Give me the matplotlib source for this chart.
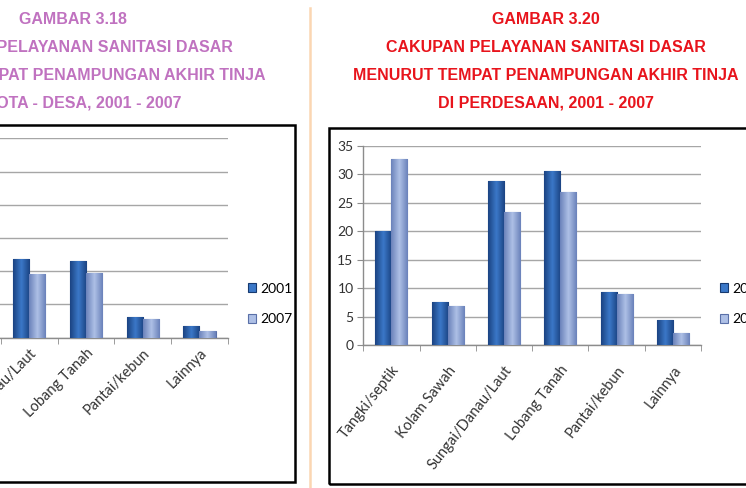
import numpy as np
import matplotlib
matplotlib.use("Agg")
import matplotlib.pyplot as plt
from matplotlib.patches import Rectangle
from matplotlib.lines import Line2D
from matplotlib.colors import LinearSegmentedColormap

W, H = 746, 488

# data ------------------------------------------------------------
cats = ["Tangki/septik", "Kolam Sawah", "Sungai/Danau/Laut",
        "Lobang Tanah", "Pantai/kebun", "Lainnya"]
years = ["2001", "2007"]

# left chart (kota - desa): only the last four categories are visible
left_idx = [2, 3, 4, 5]
left_2001 = [23.8, 23.0, 6.1, 3.4]
left_2007 = [19.1, 19.6, 5.6, 1.9]

# right chart (perdesaan)
right_2001 = [20.0, 7.6, 28.8, 30.6, 9.3, 4.5]
right_2007 = [32.6, 6.9, 23.4, 26.8, 9.0, 2.1]

left_title = ["GAMBAR 3.18", "CAKUPAN PELAYANAN SANITASI DASAR",
              "MENURUT TEMPAT PENAMPUNGAN AKHIR TINJA",
              "DI KOTA - DESA, 2001 - 2007"]
right_title = ["GAMBAR 3.20", "CAKUPAN PELAYANAN SANITASI DASAR",
               "MENURUT TEMPAT PENAMPUNGAN AKHIR TINJA",
               "DI PERDESAAN, 2001 - 2007"]

# styling ---------------------------------------------------------
c01 = ["#1b4382", "#3b78c8", "#1b4382"]
c07 = ["#6a82ba", "#aec0e6", "#6a82ba"]
cmap01 = LinearSegmentedColormap.from_list("c01", c01)
cmap07 = LinearSegmentedColormap.from_list("c07", c07)
grad = np.linspace(0, 1, 64).reshape(1, -1)
tick_font = "Lato"


def px_axes(fig, x0, x1, ytop, ybot):
    return fig.add_axes([x0 / W, 1 - ybot / H, (x1 - x0) / W, (ybot - ytop) / H])


def fancy_bars(ax, x, vals, width, cmap, edge, label):
    bars = ax.bar(x, vals, width, color=cmap(0.5), edgecolor=edge,
                  linewidth=0.8, zorder=3, label=label)
    for b in bars:
        x0, y0 = b.get_x(), b.get_y()
        im = ax.imshow(grad, cmap=cmap, aspect="auto", zorder=3.5,
                       extent=(x0, x0 + b.get_width(), y0, y0 + b.get_height()))
        im.set_clip_path(b)
    return bars


def draw_chart(ax, idx, v01, v07, ymax, ystep, show_y, rot, pad):
    bw = 0.285
    x = np.array(idx, dtype=float)
    fancy_bars(ax, x - bw / 2, v01, bw, cmap01, "#173a70", years[0])
    fancy_bars(ax, x + bw / 2, v07, bw, cmap07, "#5a70a8", years[1])
    ax.set_xlim(-0.5, len(cats) - 0.5)
    ax.set_ylim(0, ymax)
    ax.set_yticks(np.arange(0, ymax + 0.1, ystep))
    ax.yaxis.grid(True, color="#a6a6a6", linewidth=1.0, zorder=0)
    ax.set_axisbelow(True)
    for s in ["top", "right"]:
        ax.spines[s].set_visible(False)
    for s in ["left", "bottom"]:
        ax.spines[s].set_color("#8c8c8c")
        ax.spines[s].set_linewidth(1.0)
    ax.set_xticks(range(len(cats)))
    ax.set_xticklabels(cats, rotation=rot, ha="right", va="top",
                       rotation_mode="anchor", fontsize=10.5,
                       family=tick_font, color="#333333")
    ax.tick_params(axis="x", length=0, pad=pad)
    ax.set_xticks(np.arange(-0.5, len(cats)), minor=True)
    ax.tick_params(axis="x", which="minor", length=4, color="#8c8c8c")
    ax.tick_params(axis="y", length=4, color="#8c8c8c", labelsize=10,
                   labelcolor="#333333", pad=3)
    for t in ax.get_yticklabels():
        t.set_family(tick_font)
    if not show_y:
        ax.set_yticklabels([])
    ax.set_facecolor("none")


fig = plt.figure(figsize=(W / 100, H / 100), dpi=100)

# frames and separator
fig.patches.append(Rectangle((-5 / W, 1 - 482 / H), 300 / W, 357 / H,
                             transform=fig.transFigure, fill=False,
                             edgecolor="black", linewidth=1.8))
fig.patches.append(Rectangle((329 / W, 1 - 484 / H), 430 / W, 356 / H,
                             transform=fig.transFigure, fill=False,
                             edgecolor="black", linewidth=1.8))
fig.lines.append(Line2D([309.5 / W, 309.5 / W], [0, 1 - 8 / H],
                        transform=fig.transFigure, color="#fbd6b2",
                        linewidth=1.8))

axL = px_axes(fig, -112.4, 227.7, 138.3, 337.7)
draw_chart(axL, left_idx, left_2001, left_2007, 60, 10, False, 45, 6)

axR = px_axes(fig, 363.3, 701.0, 145.7, 345.3)
draw_chart(axR, range(len(cats)), right_2001, right_2007, 35, 5, True, 52, 13)

for ax, xanchor in [(axL, 235), (axR, 707)]:
    h, l = ax.get_legend_handles_labels()
    ax.legend(h, l, loc="center left", frameon=False,
              bbox_to_anchor=(xanchor / W, 1 - 304 / H),
              bbox_transform=fig.transFigure,
              handlelength=0.6, handleheight=0.6, handletextpad=0.3,
              labelspacing=1.35, prop={"family": tick_font, "size": 10})

for lines, xc, color in [(left_title, 73, "#c072c0"), (right_title, 546, "#e8141c")]:
    for i, s in enumerate(lines):
        fig.text(xc / W, 1 - (19 + 28 * i) / H, s, ha="center", va="center",
                 fontsize=11.5, fontweight="bold", color=color,
                 family="Liberation Sans")

fig.savefig("out.png", dpi=100)
